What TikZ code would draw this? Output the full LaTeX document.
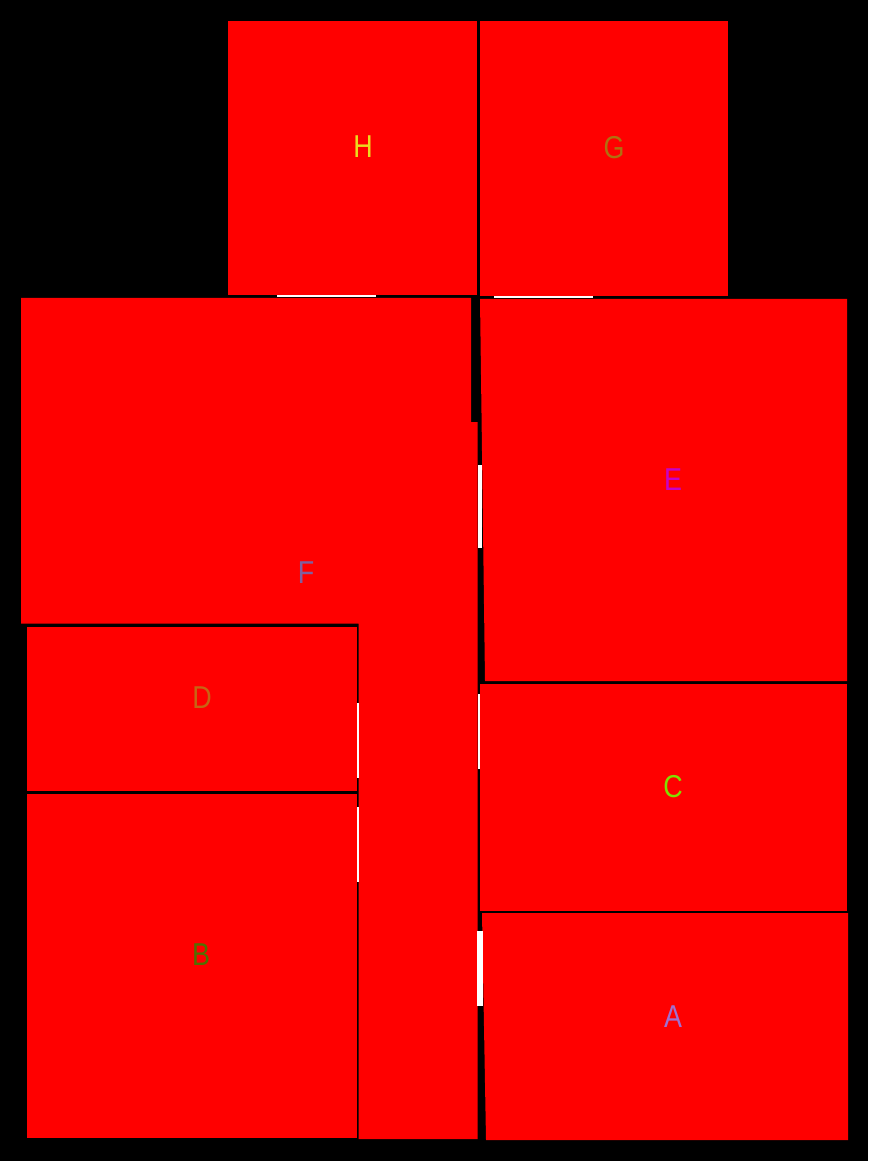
\documentclass[tikz,border=0pt]{standalone}
\usepackage{xcolor}
\usepackage{fontspec}
\setmainfont{Liberation Sans}
\usepackage{tikz}
\definecolor{roomred}{RGB}{255,0,0}
\definecolor{colA}{RGB}{160,112,208}
\definecolor{colB}{RGB}{80,112,0}
\definecolor{colC}{RGB}{128,224,0}
\definecolor{colD}{RGB}{200,100,20}
\definecolor{colE}{RGB}{200,0,200}
\definecolor{colF}{RGB}{128,96,160}
\definecolor{colG}{RGB}{176,112,16}
\definecolor{colH}{RGB}{235,220,30}
\begin{document}
\begin{tikzpicture}[scale=0.2]
\tikzstyle{every node}+=[inner sep=0pt]
\tikzstyle{room}=[fill=roomred]
\tikzstyle{door}=[fill=white]
\tikzstyle{tag}=[font=\fontsize{18}{18}\selectfont, xscale=0.85]
\fill [black] (0,0) rectangle (86.8,-116.1);
\useasboundingbox (0,0) rectangle (86.8,-116.1);
% rooms
\fill [room] (22.8,-2.1) rectangle (47.7,-29.5);
\fill [room] (48.0,-2.1) rectangle (72.8,-29.6);
\fill [room] (2.1,-29.8) -- (47.1,-29.8) -- (47.1,-42.2) -- (47.77,-42.2) -- (47.77,-113.9) -- (35.87,-113.9) -- (35.87,-62.37) -- (2.1,-62.37) -- cycle;
\fill [room] (48.0,-29.9) -- (84.7,-29.9) -- (84.7,-68.1) -- (48.5,-68.1) -- cycle;
\fill [room] (2.7,-62.7) rectangle (35.73,-79.1);
\fill [room] (48.0,-68.4) rectangle (84.7,-91.1);
\fill [room] (2.7,-79.37) rectangle (35.73,-113.8);
\fill [room] (48.2,-91.3) -- (84.8,-91.3) -- (84.8,-114.0) -- (48.6,-114.0) -- cycle;
% doors
\fill [door] (27.7,-29.5) rectangle (37.6,-29.75);
\fill [door] (49.4,-29.6) rectangle (59.3,-29.85);
\fill [door] (47.77,-46.5) rectangle (48.2,-54.8);
\fill [door] (35.73,-70.3) rectangle (35.87,-77.8);
\fill [door] (35.73,-80.7) rectangle (35.87,-88.2);
\fill [door] (47.77,-69.4) rectangle (48.0,-76.9);
\fill [door] (47.7,-93.1) rectangle (48.3,-100.6);
% labels
\node [tag, text=colH] (labH) at (36.3,-14.7) {H};
\node [tag, text=colG] (labG) at (61.4,-14.8) {G};
\node [tag, text=colE] (labE) at (67.3,-48.0) {E};
\node [tag, text=colF] (labF) at (30.6,-57.3) {F};
\node [tag, text=colD] (labD) at (20.2,-69.8) {D};
\node [tag, text=colC] (labC) at (67.3,-78.7) {C};
\node [tag, text=colB] (labB) at (20.1,-95.5) {B};
\node [tag, text=colA] (labA) at (67.3,-101.7) {A};
\end{tikzpicture}
\end{document}
